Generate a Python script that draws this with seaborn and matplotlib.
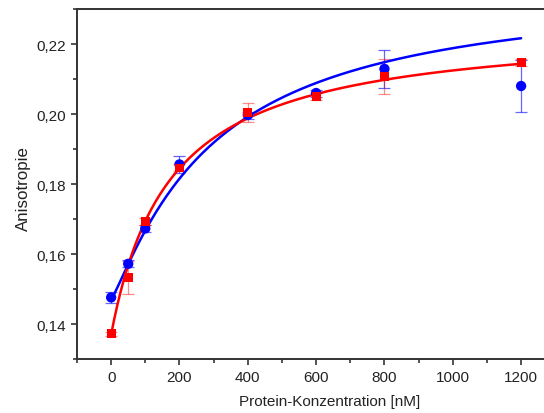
import numpy as np
import pandas as pd
import matplotlib
matplotlib.use("Agg")
import matplotlib.pyplot as plt
from matplotlib.ticker import FuncFormatter, MultipleLocator
import seaborn as sns

# data
conc = [0, 50, 100, 200, 400, 600, 800, 1200]
blue_vals = [0.1476, 0.1572, 0.1673, 0.1856, 0.1997, 0.2060, 0.2129, 0.2080]
blue_err = [0.0015, 0.0010, 0.0010, 0.0025, 0.0010, 0.0010, 0.0055, 0.0073]
red_vals = [0.1372, 0.1534, 0.1694, 0.1846, 0.2005, 0.2050, 0.2108, 0.2148]
red_err = [0.0005, 0.0047, 0.0010, 0.0010, 0.0027, 0.0010, 0.0050, 0.0010]

# fit parameters (binding curves)
blue_fit = dict(a0=0.147, b=0.0899, k=301.5, n=1.15)
red_fit = dict(a0=0.137, b=0.0885, k=173.0, n=1.0)

xticks = [0, 200, 400, 600, 800, 1000, 1200]
yticks = [0.14, 0.16, 0.18, 0.20, 0.22]


def hill(x, a0, b, k, n):
    return a0 + b * x ** n / (k ** n + x ** n)


sns.set_style("ticks")
plt.rcParams["font.family"] = ["Liberation Sans", "DejaVu Sans"]

fig = plt.figure(figsize=(5.44, 4.14), dpi=100)
ax = fig.add_axes([0.1415, 0.1304, 0.8585, 0.8454])

xf = np.linspace(0, 1200, 400)
fit_df = pd.DataFrame({
    "x": np.concatenate([xf, xf]),
    "y": np.concatenate([hill(xf, **blue_fit), hill(xf, **red_fit)]),
    "s": ["blue"] * len(xf) + ["red"] * len(xf),
})

ax.errorbar(conc, blue_vals, yerr=blue_err, fmt="none", ecolor=(0, 0, 1, 0.6),
            elinewidth=0.9, capsize=4, capthick=0.9, zorder=2)
ax.errorbar(conc, red_vals, yerr=red_err, fmt="none", ecolor=(1, 0, 0, 0.45),
            elinewidth=0.9, capsize=4, capthick=0.9, zorder=2)

sns.lineplot(data=fit_df[fit_df.s == "blue"], x="x", y="y", color="#0000ff",
             linewidth=1.8, ax=ax, zorder=3)
sns.lineplot(data=fit_df[fit_df.s == "red"], x="x", y="y", color="#ff0000",
             linewidth=1.8, ax=ax, zorder=4)

sns.scatterplot(x=conc, y=blue_vals, color="#0000ff", marker="o", s=55,
                edgecolor="none", ax=ax, zorder=5)
sns.scatterplot(x=conc, y=red_vals, color="#ff0000", marker="s", s=40,
                edgecolor="none", ax=ax, zorder=5)

ax.set_xlim(-100, 1267)
ax.set_ylim(0.13, 0.23)
ax.set_xticks(xticks)
ax.set_yticks(yticks)
ax.xaxis.set_minor_locator(MultipleLocator(100))
ax.yaxis.set_minor_locator(MultipleLocator(0.01))
ax.yaxis.set_major_formatter(FuncFormatter(lambda v, p: f"{v:.2f}".replace(".", ",")))
ax.xaxis.set_major_formatter(FuncFormatter(lambda v, p: f"{int(round(v))}"))

ax.tick_params(axis="both", which="major", direction="out", length=4, width=1.2,
               color="#333333", labelsize=11, labelcolor="#222222", pad=4)
ax.tick_params(axis="both", which="minor", direction="out", length=3, width=1.2,
               color="#333333")

for side in ["left", "bottom", "top"]:
    ax.spines[side].set_linewidth(1.4)
    ax.spines[side].set_color("#333333")
ax.spines["right"].set_visible(False)
ax.spines["top"].set_visible(True)

ax.set_xlabel("Protein-Konzentration [nM]", fontsize=11, color="#222222")
ax.set_ylabel("Anisotropie", fontsize=12.2, color="#222222")
ax.xaxis.set_label_coords(0.542, -0.100)
ax.yaxis.set_label_coords(-0.098, 0.49)

fig.savefig("out.png", dpi=100)
